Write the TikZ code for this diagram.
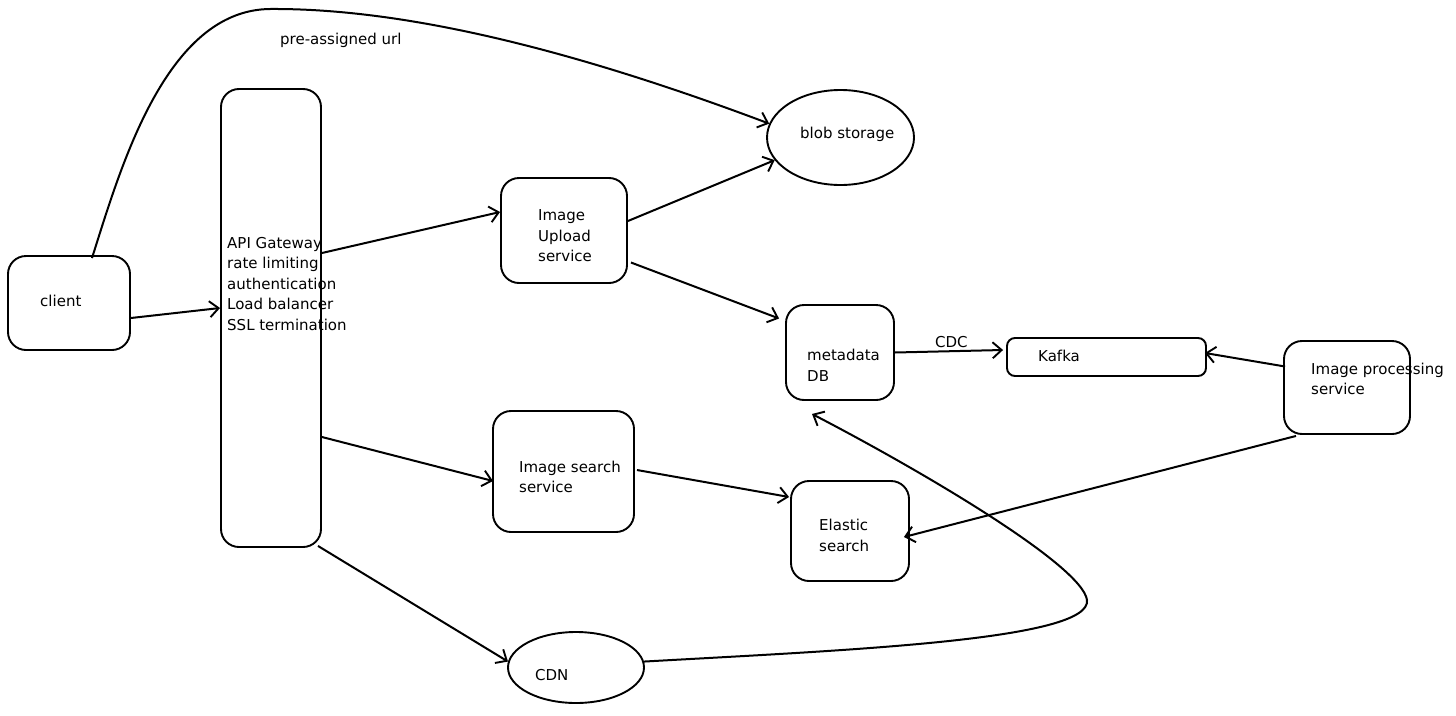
\documentclass[tikz,border=0pt]{standalone}
\usepackage{fontspec}
\setmainfont{DejaVu Sans}
\usetikzlibrary{arrows.meta,shapes.geometric}
\tikzset{
  box/.style={draw, line width=1.9pt, rounded corners=18pt, inner sep=0pt},
  oval/.style={draw, line width=1.9pt, ellipse, inner sep=0pt},
  txt/.style={font=\fontsize{15}{20.5}\selectfont, inner sep=0pt, align=left, anchor=west},
  conn/.style={line width=2pt, -{Straight Barb[length=9pt,width=16pt,line width=1.9pt]}},
}
\begin{document}
\begin{tikzpicture}[x=1pt,y=-1pt]
\useasboundingbox (0,0) rectangle (1456,715);
% shapes
\node[box, minimum width=122pt, minimum height=94pt] (client) at (69,303) {};
\node[box, minimum width=100pt, minimum height=458pt] (api) at (271,318) {};
\node[box, minimum width=126pt, minimum height=105pt] (upload) at (564,230.5) {};
\node[oval, minimum width=147pt, minimum height=95pt] (blob) at (840.5,137.5) {};
\node[box, minimum width=108pt, minimum height=95pt] (meta) at (840,352.5) {};
\node[box, rounded corners=8pt, minimum width=199pt, minimum height=38pt] (kafka) at (1106.5,357) {};
\node[box, minimum width=126pt, minimum height=93pt] (proc) at (1347,387.5) {};
\node[box, minimum width=141pt, minimum height=121pt] (search) at (563.5,471.5) {};
\node[box, minimum width=118pt, minimum height=100pt] (elastic) at (850,531) {};
\node[oval, minimum width=136pt, minimum height=71pt] (cdn) at (576,667.5) {};
% texts
\node[txt] (tclient) at (40,301) {client};
\node[txt] (tapi) at (227,284) {API Gateway\\rate limiting\\authentication\\Load balancer\\SSL termination};
\node[txt] (tupload) at (538,236) {Image\\Upload\\service};
\node[txt] (tblob) at (800,134) {blob storage};
\node[txt] (tmeta) at (807,365.5) {metadata\\DB};
\node[txt] (tkafka) at (1038,356) {Kafka};
\node[txt] (tproc) at (1311,379) {Image processing\\service};
\node[txt] (tsearch) at (519,477) {Image search\\service};
\node[txt] (telastic) at (819,535.5) {Elastic\\search};
\node[txt] (tcdn) at (535,675) {CDN};
\node[txt] (tcdc) at (935,342) {CDC};
\node[txt] (turl) at (280,40) {pre-assigned url};
% connectors
\draw[conn] ([yshift=-15pt]client.east) -- ([yshift=10pt]api.west);
\draw[conn] ([yshift=65pt]api.east) -- ([yshift=18.5pt]upload.west);
\draw[conn] ([yshift=9.5pt]upload.east) -- (blob.199);
\draw[conn] ([xshift=3pt,yshift=-32pt]upload.east) -- ([xshift=-6pt,yshift=34pt]meta.west);
\draw[conn] (meta.east) -- ([xshift=-3pt,yshift=7pt]kafka.west);
\draw[conn] ([xshift=2pt,yshift=21pt]proc.west) -- ([xshift=-2pt,yshift=4pt]kafka.east);
\draw[conn] ([xshift=-51pt,yshift=-1pt]proc.south) -- ([xshift=-6pt,yshift=-6pt]elastic.east);
\draw[conn] ([yshift=-119pt]api.east) -- ([xshift=1pt,yshift=-9.5pt]search.west);
\draw[conn] ([xshift=2pt,yshift=1.5pt]search.east) -- ([xshift=-1pt,yshift=34pt]elastic.west);
\draw[conn] ([xshift=47pt,yshift=2pt]api.south) -- (cdn.175);
\draw[conn] (cdn.5) .. controls (850,650) and (1092,640) .. (1087,600) .. controls (1082,565) and (920,470) .. ([xshift=-28pt,yshift=-13pt]meta.south);
\draw[conn] ([xshift=23pt,yshift=-3pt]client.north) .. controls (120,170) and (165,10) .. (270,9) .. controls (420,8) and (600,60) .. (blob.169);
\end{tikzpicture}
\end{document}
